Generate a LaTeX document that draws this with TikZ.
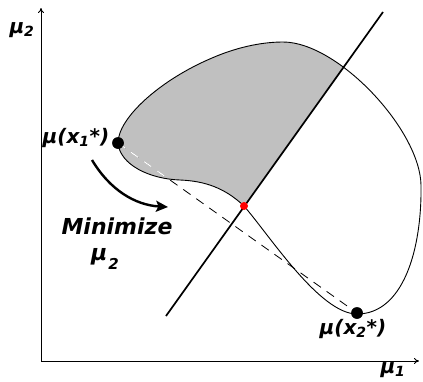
\documentclass[tikz,border=0pt]{standalone}
\usepackage{fontspec}
\setmainfont{DejaVu Sans}
\usetikzlibrary{arrows.meta}
\definecolor{regiongray}{RGB}{192,192,192}
\definecolor{ptred}{RGB}{255,0,0}
\tikzset{
  lbl/.style={inner sep=0pt, font=\fontsize{20}{24}\selectfont\bfseries\itshape},
  biglbl/.style={inner sep=0pt, font=\fontsize{22}{26}\selectfont\bfseries\itshape},
  axis/.style={line width=1pt, -{To[length=5pt,width=6pt]}},
  dotblack/.style={circle, fill=black, inner sep=0pt, minimum size=11.5pt},
  dotred/.style={circle, fill=ptred, inner sep=0pt, minimum size=8pt},
  boundary/.style={line width=0.9pt},
  front/.style={line width=1.7pt},
  chord/.style={line width=0.8pt, dash pattern=on 9pt off 7pt},
  bigarrow/.style={line width=2.4pt, -{Stealth[length=12pt,width=11pt,inset=2.5pt]}}
}
\begin{document}
\begin{tikzpicture}[x=1pt,y=-1pt]
\useasboundingbox (0,0) rectangle (423,381);
\def\regionpath{(118,143) .. controls (118,118) and (160,80) .. (212,58)
  .. controls (235,48) and (260,42) .. (283,42)
  .. controls (338,42) and (420,130) .. (421,185)
  .. controls (422,250) and (403,314) .. (357,314)
  .. controls (320,314) and (270,236) .. (244,206)
  .. controls (225,188) and (205,181) .. (180,180)
  .. controls (150,179) and (120,165) .. (118,143) -- cycle}
% axes
\coordinate (origin) at (41,361);
\coordinate (ytip) at (41,8);
\coordinate (xtip) at (419,361);
% shaded part of the region
\begin{scope}
  \clip (35,500) -- (463,-100) -- (-100,-100) -- (-100,500) -- cycle;
  \fill[regiongray] \regionpath;
\end{scope}
% points
\node[dotblack] (x1) at (118,143) {};
\node[dotblack] (x2) at (357,313) {};
% dashed chord
\draw[chord] (x1.center) -- (x2.center);
\begin{scope}
  \clip (35,500) -- (463,-100) -- (-100,-100) -- (-100,500) -- cycle;
  \clip \regionpath;
  \draw[chord, white, line width=1.2pt] (x1.center) -- (x2.center);
\end{scope}
% boundary
\draw[boundary] \regionpath;
% front line
\coordinate (fa) at (166,316);
\coordinate (fb) at (383,12);
\draw[front] (fa) -- (fb);
\node[dotblack] at (x1) {};
\node[dotblack] at (x2) {};
\node[dotred] (r) at (244,206) {};
% axes
\draw[axis] (origin) -- (ytip);
\draw[axis] (origin) -- (xtip);
% arrow
\coordinate (as) at (92,160);
\coordinate (ae) at (168,207);
\draw[bigarrow] (as) .. controls (110,190) and (135,205) .. (ae);
% labels
\node[lbl] (ly) at (22,30) {μ\textsubscript{2}};
\node[lbl] (lx) at (393,370) {μ\textsubscript{1}};
\node[lbl] (l1) at (76,138) {μ(x\textsubscript{1}*)};
\node[lbl] (l2) at (353,329) {μ(x\textsubscript{2}*)};
\node[biglbl] (lm) at (117,226) {Minimize};
\node[biglbl, anchor=base west] (lmu) at (91,260) {μ\raisebox{-9pt}{\kern1pt\fontsize{15}{17}\selectfont 2}};
\end{tikzpicture}
\end{document}
